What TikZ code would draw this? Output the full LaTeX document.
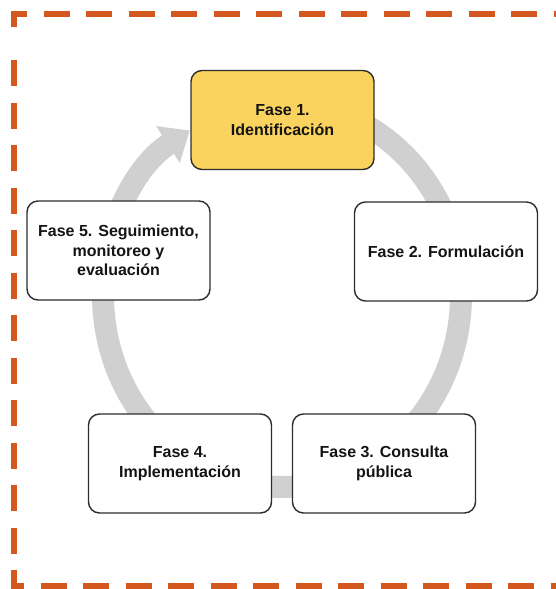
\documentclass[tikz,border=0pt]{standalone}
\usepackage{fontspec}
\setmainfont{Liberation Sans}
\usetikzlibrary{arrows.meta}
\definecolor{naranja}{RGB}{210,88,30}
\definecolor{amarillo}{RGB}{249,211,94}
\definecolor{anillo}{RGB}{208,208,208}
\definecolor{borde}{RGB}{45,45,45}
\tikzset{
	fase/.style={draw=borde, line width=1.4pt, rounded corners=11pt, fill=white, minimum width=183pt, minimum height=99pt, align=center, text=black!92, font=\fontsize{16}{19.5}\selectfont\bfseries},
	activa/.style={fase, fill=amarillo},
	marco/.style={draw=naranja, line width=5.5pt, dash pattern=on 26pt off 16.5pt},
	ciclo/.style={draw=anillo, line width=22pt, -{Triangle[width=42pt,length=26pt]}}
}

\begin{document}
\begin{tikzpicture}[x=1pt,y=-1pt]
			\useasboundingbox (0,0) rectangle (555,589);
			\draw[marco] (14,27) -- (14,14) -- (575,14);
			\draw[marco] (14,60) -- (14,586) -- (575,586);
			\draw[ciclo] (282,295) ++(-95:179 and 192) arc[start angle=-95, end angle=239, x radius=179, y radius=192];
			\node[activa] (fase1) at (282.5,120) {Fase 1.\\Identificación};
			\node[fase] (fase2) at (446,251.5) {Fase 2. Formulación};
			\node[fase] (fase3) at (384,463.5) {Fase 3. Consulta\\pública};
			\node[fase] (fase4) at (180,463.5) {Fase 4.\\Implementación};
			\node[fase] (fase5) at (118.5,250.5) {Fase 5. Seguimiento,\\monitoreo y\\evaluación};
		\end{tikzpicture}
\end{document}
